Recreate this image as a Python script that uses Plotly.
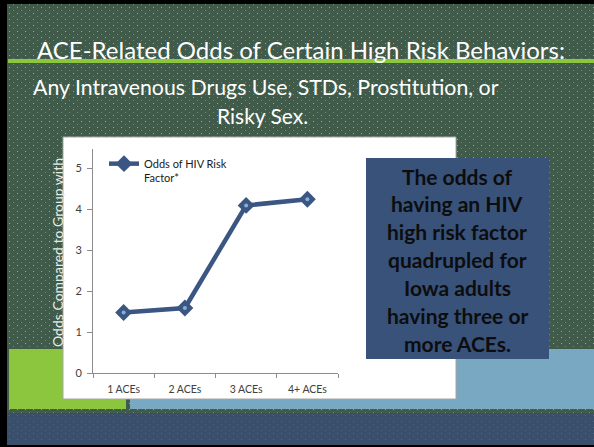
import base64
import plotly.graph_objects as go

# ---- data ----
categories = ["1 ACEs", "2 ACEs", "3 ACEs", "4+ ACEs"]
odds = [1.48, 1.59, 4.10, 4.25]
series_name = "Odds of HIV Risk<br>Factor*"
y_ticks = [0, 1, 2, 3, 4, 5]
title_lines = [
    "ACE-Related Odds of Certain High Risk Behaviors:",
    "Any Intravenous Drugs Use, STDs, Prostitution, or",
    "Risky Sex.",
]
callout_lines = [
    "The odds of",
    "having an HIV",
    "high risk factor",
    "quadrupled for",
    "Iowa adults",
    "having three or",
    "more ACEs.",
]
y_title = "Odds Compared to Group with"

# ---- geometry (pixels) ----
W, H = 594, 447
L, R, T, B = 93, 338, 149, 373


def px(x):
    return (x - L) / (R - L)


def py(y):
    return (B - y) / (B - T)


GREEN_BG = "#405b4a"
NAVY_BG = "#3a4f6c"
LINE_COL = "#3b5682"

svg = f'''<svg xmlns="http://www.w3.org/2000/svg" width="{W}" height="{H}">
<defs>
<pattern id="g" width="8" height="6" patternUnits="userSpaceOnUse">
<rect width="8" height="6" fill="{GREEN_BG}"/>
<rect x="1" y="1" width="1" height="1" fill="#92a999"/>
<rect x="5" y="4" width="1" height="1" fill="#71897a"/>
</pattern>
<pattern id="n" width="8" height="6" patternUnits="userSpaceOnUse">
<rect width="8" height="6" fill="{NAVY_BG}"/>
<rect x="1" y="1" width="1" height="1" fill="#51668a"/>
<rect x="5" y="4" width="1" height="1" fill="#4a5f80"/>
</pattern>
</defs>
<rect width="{W}" height="{H}" fill="url(#g)"/>
<rect x="0" y="413" width="{W}" height="{H-413}" fill="url(#n)"/>
</svg>'''
src = "data:image/svg+xml;base64," + base64.b64encode(svg.encode()).decode()

fig = go.Figure()
fig.add_trace(go.Scatter(
    x=categories, y=odds, mode="lines+markers", name=series_name,
    line=dict(color=LINE_COL, width=4.5),
    marker=dict(symbol="diamond", size=13, color=LINE_COL),
))
fig.add_trace(go.Scatter(
    x=categories, y=odds, mode="markers", showlegend=False, hoverinfo="skip",
    marker=dict(symbol="circle", size=4, color="#86afd3"),
))


def rect(x0, y0, x1, y1, color, line=None):
    return dict(type="rect", xref="paper", yref="paper",
                x0=px(x0), x1=px(x1), y0=py(y1), y1=py(y0),
                fillcolor=color, line=line or dict(width=0), layer="below")


shapes = [
    # green title rule
    rect(8, 59, W, 63, "#8cc63f"),
    # bottom band blocks
    rect(9, 349, 126, 409, "#8cc63f"),
    rect(130, 349, W, 409, "#78a8c2"),
    # black frame
    rect(0, 0, 7, H, "#000000"),
    rect(0, 0, W, 4, "#000000"),
    rect(0, 445, W, H, "#000000"),
    # chart box
    rect(63, 137, 456, 399, "#ffffff", dict(color="#a6a6a6", width=1)),
    # callout box
    rect(366, 158, 549, 359, "#38527a"),
]

annotations = []
title_pos = [(301, 50, 24), (266, 87, 21.3), (262, 115, 21)]
for txt, (xx, yy, fs) in zip(title_lines, title_pos):
    annotations.append(dict(
        text=txt, xref="paper", yref="paper", x=px(xx), y=py(yy),
        xanchor="center", yanchor="middle", showarrow=False,
        font=dict(family="Lato", size=fs, color="#ffffff")))
for i, txt in enumerate(callout_lines):
    annotations.append(dict(
        text=f"<b>{txt}</b>", xref="paper", yref="paper", x=px(457),
        y=py(176 + 27.9 * i), xanchor="center", yanchor="middle",
        showarrow=False, font=dict(family="Lato", size=21, color="#0d0d0d")))
annotations.append(dict(
    text=y_title, xref="paper", yref="paper", x=px(57), y=py(253),
    xanchor="center", yanchor="middle", textangle=-90, showarrow=False,
    font=dict(family="Lato", size=14, color="#e8ece9")))

fig.update_layout(
    width=W, height=H,
    margin=dict(l=L, r=W - R, t=T, b=H - B, autoexpand=False),
    paper_bgcolor=GREEN_BG, plot_bgcolor="rgba(0,0,0,0)",
    images=[dict(source=src, xref="paper", yref="paper", x=px(0), y=py(0),
                 sizex=W / (R - L), sizey=H / (B - T), xanchor="left",
                 yanchor="top", sizing="stretch", layer="below")],
    shapes=shapes, annotations=annotations,
    showlegend=True,
    legend=dict(x=px(104), y=py(150), xanchor="left", yanchor="top",
                bgcolor="rgba(0,0,0,0)", valign="top", itemwidth=30,
                font=dict(family="Lato", size=11, color="#1a1a1a"),
                tracegroupgap=0),
    xaxis=dict(type="category", range=[-0.5, 3.5], showline=True,
               linecolor="#8c8c8c", linewidth=1, ticks="outside",
               tickson="boundaries", ticklen=4, tickcolor="#8c8c8c",
               showgrid=False, zeroline=False, ticklabelstandoff=6,
               tickfont=dict(family="Lato", size=10.5, color="#404040")),
    yaxis=dict(range=[0, 5.48], tickvals=y_ticks, showline=True,
               linecolor="#8c8c8c", linewidth=1, ticks="outside", ticklen=5,
               tickcolor="#8c8c8c", showgrid=False, zeroline=False,
               ticklabelstandoff=3,
               tickfont=dict(family="Lato", size=11, color="#404040")),
)

fig.write_html("out.html")
